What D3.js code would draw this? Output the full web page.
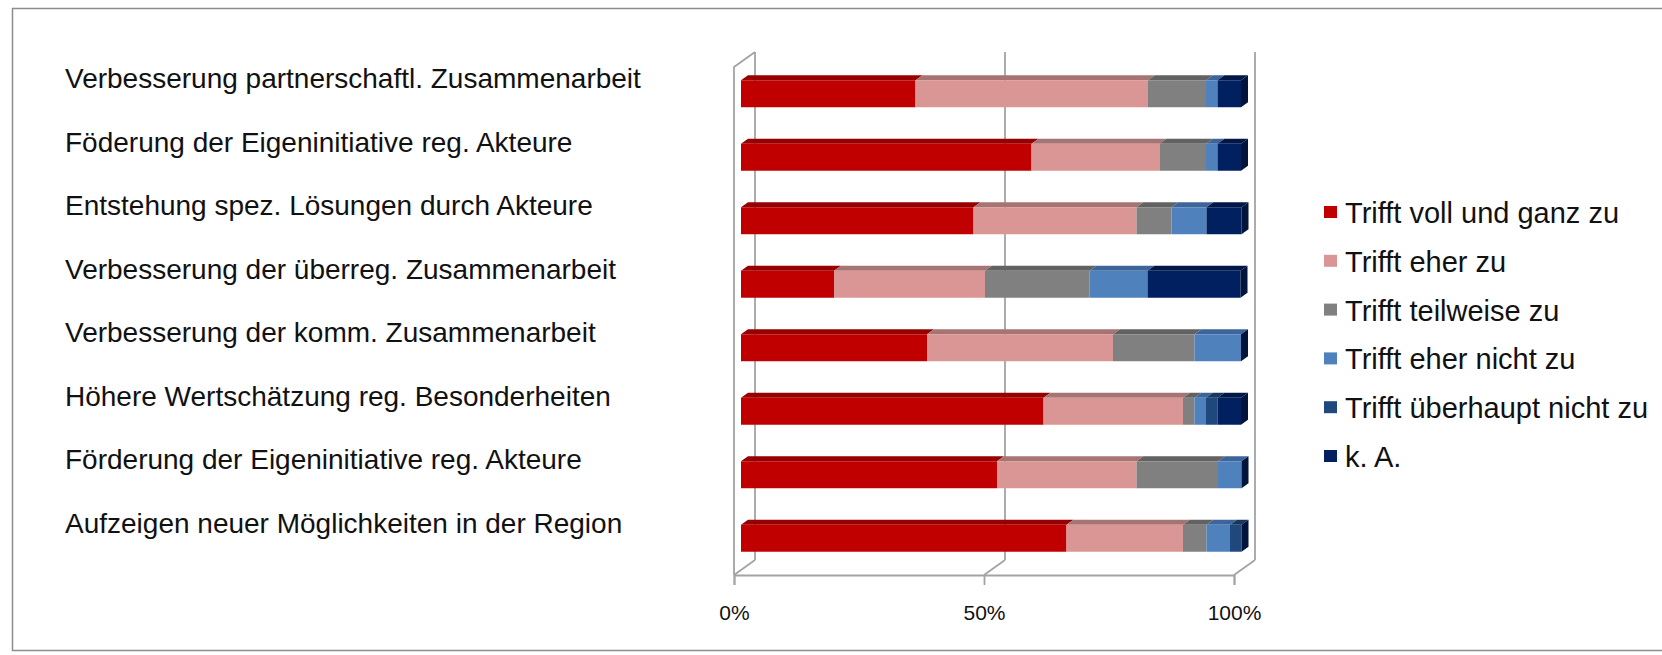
<!DOCTYPE html>
<html>
<head>
<meta charset="utf-8">
<script src="https://cdn.jsdelivr.net/npm/d3@7"></script>
<style>
  html, body { margin: 0; padding: 0; background: #fff; }
  svg { display: block; font-family: "Liberation Sans", Arial, sans-serif; }
</style>
</head>
<body>
<svg id="chart" width="1662" height="655"></svg>
<script>
// ---------- data ----------
const categories = [
  "Verbesserung partnerschaftl. Zusammenarbeit",
  "Föderung der Eigeninitiative reg. Akteure",
  "Entstehung spez. Lösungen durch Akteure",
  "Verbesserung der überreg. Zusammenarbeit",
  "Verbesserung der komm. Zusammenarbeit",
  "Höhere Wertschätzung reg. Besonderheiten",
  "Förderung der Eigeninitiative reg. Akteure",
  "Aufzeigen neuer Möglichkeiten in der Region"
];
const seriesNames = [
  "Trifft voll und ganz zu",
  "Trifft eher zu",
  "Trifft teilweise zu",
  "Trifft eher nicht zu",
  "Trifft überhaupt nicht zu",
  "k. A."
];
const vollUndGanz  = [34.9, 58.1, 46.5, 18.6, 37.2, 60.5, 51.2, 65.1];
const eherZu       = [46.5, 25.6, 32.6, 30.2, 37.2, 27.9, 27.9, 23.3];
const teilweise    = [11.6,  9.3,  7.0, 20.9, 16.3,  2.3, 16.3,  4.7];
const eherNicht    = [ 2.3,  2.3,  7.0, 11.6,  9.3,  2.3,  4.7,  4.7];
const ueberhaupt   = [ 0.0,  0.0,  0.0,  0.0,  0.0,  2.3,  0.0,  2.3];
const keineAngabe  = [ 4.7,  4.7,  7.0, 18.6,  0.0,  4.7,  0.0,  0.0];
const tickValues = [0, 50, 100];
const tickLabels = ["0%", "50%", "100%"];

// ---------- styles ----------
const frontColors = ["#C00000", "#DA9694", "#808080", "#4F81BD", "#1F497D", "#002060"];
const topColors   = ["#960000", "#a67472", "#626262", "#3d659a", "#17375e", "#001848"];
const endSideColor = "#00143c";
const gridColor = "#a3a3a3";

const seriesValues = [vollUndGanz, eherZu, teilweise, eherNicht, ueberhaupt, keineAngabe];
const table = categories.map((c, i) => {
  const row = { cat: c };
  seriesNames.forEach((s, k) => row[s] = seriesValues[k][i]);
  return row;
});
const stacked = d3.stack().keys(seriesNames)(table);

const svg = d3.select("#chart");

// outer frame
svg.append("rect")
  .attr("x", 12.5).attr("y", 8.5).attr("width", 1680).attr("height", 642)
  .attr("fill", "none").attr("stroke", "#8c8c8c").attr("stroke-width", 1.5);

// geometry of 3D box
const depthX = 21, depthY = 15;          // wall depth
const frontLeft = 734, frontRight = 1234, frontTop = 67, frontBottom = 575;
const xFront = d3.scaleLinear().domain([0, 100]).range([frontLeft, frontRight]);
const xBack  = d3.scaleLinear().domain([0, 100]).range([frontLeft + depthX, frontRight + depthX]);
// bars sit slightly inside the box
const barDX = 7, barDY = 5;
const xBar = d3.scaleLinear().domain([0, 100]).range([frontLeft + barDX, frontRight + barDX]);
const y = d3.scaleBand().domain(categories)
  .range([frontTop - barDY, frontBottom - barDY])
  .paddingInner(0.575).paddingOuter(0.2875);
const bh = y.bandwidth();
const bdx = 7, bdy = 5;  // bar depth

const gGrid = svg.append("g").attr("fill", "none").attr("stroke", gridColor).attr("stroke-width", 1.8);
// back wall gridlines
tickValues.forEach(t => {
  gGrid.append("line")
    .attr("x1", xBack(t)).attr("x2", xBack(t))
    .attr("y1", frontTop - depthY).attr("y2", frontBottom - depthY);
  gGrid.append("line")
    .attr("x1", xBack(t)).attr("y1", frontBottom - depthY)
    .attr("x2", xFront(t)).attr("y2", frontBottom);
});
// left side wall
gGrid.append("path")
  .attr("d", `M${xFront(0)},${frontBottom} L${xFront(0)},${frontTop} L${xBack(0)},${frontTop - depthY}`);

// axis (front floor edge)
const axis = d3.axisBottom(xFront).tickValues(tickValues)
  .tickFormat((d, i) => tickLabels[i]).tickSize(10).tickPadding(20);
const gAxis = svg.append("g").attr("transform", `translate(0,${frontBottom})`).call(axis);
gAxis.select(".domain").attr("stroke", gridColor).attr("stroke-width", 1.8);
gAxis.selectAll(".tick line").attr("stroke", gridColor).attr("stroke-width", 1.8);
gAxis.selectAll(".tick text")
  .attr("font-family", "'Liberation Sans', Arial, sans-serif")
  .attr("font-size", 21).attr("fill", "#111");

// bars
const gBars = svg.append("g");
stacked.forEach((layer, k) => {
  layer.forEach((d, i) => {
    const cat = categories[i];
    const y0 = y(cat);
    const x0 = xBar(d[0]), x1 = xBar(d[1]);
    if (x1 - x0 <= 0) return;
    gBars.append("path")
      .attr("d", `M${x0},${y0} L${x1},${y0} L${x1 + bdx},${y0 - bdy} L${x0 + bdx},${y0 - bdy} Z`)
      .attr("fill", topColors[k]);
    gBars.append("rect")
      .attr("x", x0).attr("y", y0).attr("width", x1 - x0).attr("height", bh)
      .attr("fill", frontColors[k]);
  });
});
// end caps (right side face)
categories.forEach((cat, i) => {
  const last = stacked[stacked.length - 1][i][1];
  const xe = xBar(last), y0 = y(cat);
  gBars.append("path")
    .attr("d", `M${xe},${y0} L${xe + bdx},${y0 - bdy} L${xe + bdx},${y0 + bh - bdy} L${xe},${y0 + bh} Z`)
    .attr("fill", endSideColor);
});

// category labels
const gLab = svg.append("g")
  .attr("font-family", "'Liberation Sans', Arial, sans-serif")
  .attr("font-size", 28).attr("fill", "#111");
categories.forEach(c => {
  gLab.append("text")
    .attr("x", 65).attr("y", y(c) + 8)
    .text(c);
});

// legend
const gLeg = svg.append("g").attr("transform", "translate(1324,212)");
seriesNames.forEach((s, k) => {
  const row = gLeg.append("g").attr("transform", `translate(0,${k * 48.8})`);
  row.append("rect").attr("x", 0).attr("y", -6).attr("width", 13).attr("height", 12)
    .attr("fill", frontColors[k]);
  row.append("text").attr("x", 21).attr("y", 11)
    .attr("font-family", "'Liberation Sans', Arial, sans-serif")
    .attr("font-size", 29).attr("fill", "#111").text(s);
});
</script>
</body>
</html>
